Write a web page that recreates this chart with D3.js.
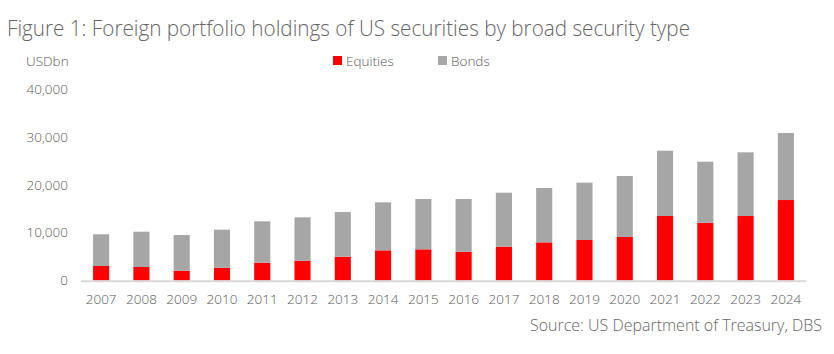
<!DOCTYPE html>
<html><head><meta charset="utf-8">
<script src="https://cdn.jsdelivr.net/npm/d3@7"></script>
<style>body{margin:0;background:#fff}svg{display:block}text{font-family:"Open Sans",sans-serif;font-weight:300}</style>
</head><body><svg id="c" width="834" height="354"></svg>
<script>
const years = ["2007","2008","2009","2010","2011","2012","2013","2014","2015","2016","2017","2018","2019","2020","2021","2022","2023","2024"];
const equities = [3030,2820,2050,2680,3720,4140,4970,6300,6510,6020,7060,7970,8460,9090,13470,12070,13470,16810];
const bonds = [6620,7370,7450,7930,8640,9060,9330,10030,10510,11000,11280,11350,11970,12740,13640,12740,13300,14000];
const yTicks = [0,10000,20000,30000,40000];
const seriesNames = ["Equities","Bonds"];
const colors = ["#ff0000","#a6a6a6"];

const svg = d3.select("#c");
const x = d3.scaleBand().domain(years).range([81,806]).paddingInner(0.6).paddingOuter(0.3);
const y = d3.scaleLinear().domain([0,40000]).range([280.5,89]);

const data = years.map((yr,i)=>({year:yr,Equities:equities[i],Bonds:bonds[i]}));
const stack = d3.stack().keys(seriesNames)(data);

svg.append("g").selectAll("g").data(stack).join("g")
  .attr("fill",(d,i)=>colors[i])
  .selectAll("rect").data(d=>d).join("rect")
  .attr("x",d=>x(d.data.year)).attr("width",x.bandwidth())
  .attr("y",d=>y(d[1])).attr("height",d=>y(d[0])-y(d[1]));

// axis line
svg.append("line").attr("x1",81).attr("x2",806).attr("y1",y(0)+0.8).attr("y2",y(0)+0.8)
  .attr("stroke","#d9d9d9").attr("stroke-width",2);

// y axis
const ya = svg.append("g").attr("transform","translate(68,0)")
  .call(d3.axisLeft(y).tickValues(yTicks).tickSize(0).tickPadding(0).tickFormat(d3.format(",")));
ya.select(".domain").remove();
ya.selectAll("text").attr("fill","#595959").style("font-size","13.5px").style("font-family","Open Sans").style("font-weight","300");

// x axis
const xa = svg.append("g").attr("transform",`translate(0,${y(0)})`)
  .call(d3.axisBottom(x).tickSize(0).tickPadding(14));
xa.select(".domain").remove();
xa.selectAll("text").attr("fill","#595959").style("font-size","13.5px").style("font-family","Open Sans").style("font-weight","300");

// title
const t = svg.append("text").attr("x",7).attr("y",36).attr("fill","#666666")
  .style("font-size","22px").text("Figure 1: Foreign portfolio holdings of US securities by broad security type");
if (t.node().getComputedTextLength() > 683) t.attr("textLength",683).attr("lengthAdjust","spacingAndGlyphs");

svg.append("text").attr("x",26).attr("y",66).attr("fill","#595959").style("font-size","13.5px").text("USDbn");

// legend
const legX = [333,438];
seriesNames.forEach((n,i)=>{
  svg.append("rect").attr("x",legX[i]).attr("y",56).attr("width",9).attr("height",9).attr("fill",colors[i]);
  svg.append("text").attr("x",legX[i]+13).attr("y",66).attr("fill","#595959").style("font-size","13.5px").text(n);
});

// source
const s = svg.append("text").attr("x",822).attr("y",331).attr("text-anchor","end").attr("fill","#666666")
  .style("font-size","16px").text("Source: US Department of Treasury, DBS");
if (s.node().getComputedTextLength() > 292) s.attr("textLength",292).attr("lengthAdjust","spacingAndGlyphs");
</script></body></html>
